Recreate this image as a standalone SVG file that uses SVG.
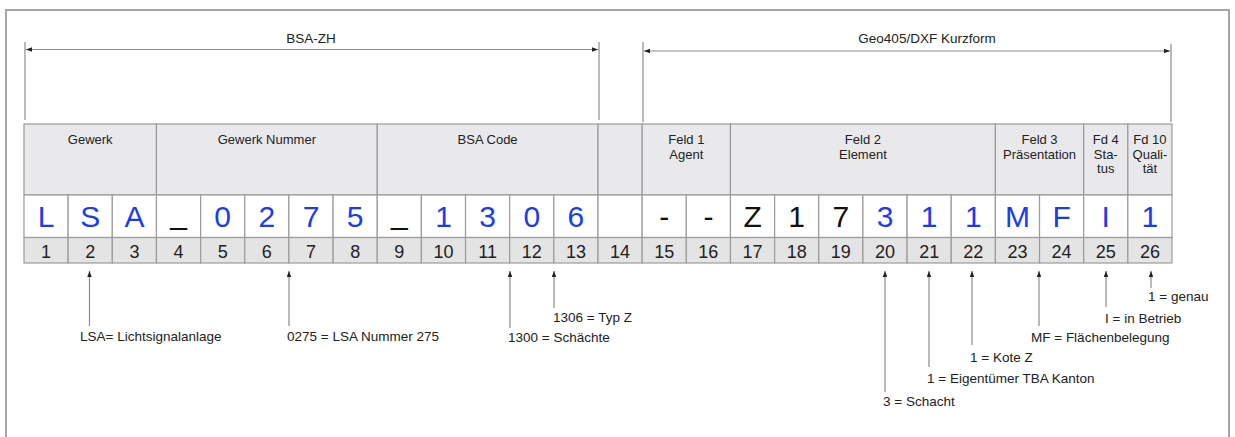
<svg xmlns="http://www.w3.org/2000/svg" width="1235" height="437" viewBox="0 0 1235 437">
<defs>
<style>
text{font-family:"Liberation Sans",Arial,Helvetica,sans-serif;fill:#222}
.hdr{fill:#e9e9ec;stroke:#9b9b9b;stroke-width:1.2}
.val{fill:#ffffff;stroke:#9b9b9b;stroke-width:1.2}
.num{fill:#e4e4e4;stroke:#9b9b9b;stroke-width:1.2}
.ht{font-size:13px;text-anchor:middle}
.v{font-size:30px;text-anchor:middle}
.b{fill:#1a3cf0}
.k{fill:#111}
.n{font-size:18px;text-anchor:middle;fill:#222}
.lbl{font-size:13.5px}
.dim{font-size:13.5px;text-anchor:middle}
.ln{stroke:#8a8a8a;stroke-width:1.2;fill:none}
.ar{stroke:#8a8a8a;stroke-width:1.2;fill:none;marker-start:url(#ah)}
.dl{stroke:#8a8a8a;stroke-width:1.2;fill:none;marker-start:url(#ah);marker-end:url(#ah)}
</style>
<marker id="ah" viewBox="0 0 8 6" refX="8" refY="3" markerWidth="6" markerHeight="4.5" markerUnits="userSpaceOnUse" orient="auto-start-reverse">
<path d="M0,0 L8,3 L0,6 Z" fill="#222"/>
</marker>
</defs>
<rect width="1235" height="437" fill="#ffffff"/>
<rect id="frame" x="6" y="10" width="1223" height="440" fill="none" stroke="#a6a6a6" stroke-width="2"/>

<g id="dim-bsa-zh">
<text class="dim" x="311" y="43">BSA-ZH</text>
</g>
<g id="dim-geo405">
<text class="dim" x="927" y="43">Geo405/DXF Kurzform</text>
</g>

<g id="header">
<g id="h-gewerk"><rect class="hdr" x="24" y="124" width="132.46" height="71"/><text class="ht" x="90.23" y="144">Gewerk</text></g>
<g id="h-gewerk-nummer"><rect class="hdr" x="156.46" y="124" width="220.77" height="71"/><text class="ht" x="266.85" y="144">Gewerk Nummer</text></g>
<g id="h-bsa-code"><rect class="hdr" x="377.23" y="124" width="220.77" height="71"/><text class="ht" x="487.62" y="144">BSA Code</text></g>
<g id="h-blank"><rect class="hdr" x="598" y="124" width="44.16" height="71"/></g>
<g id="h-feld1"><rect class="hdr" x="642.16" y="124" width="88.3" height="71"/><text class="ht" x="686.31" y="144">Feld 1</text><text class="ht" x="686.31" y="158.5">Agent</text></g>
<g id="h-feld2"><rect class="hdr" x="730.46" y="124" width="264.93" height="71"/><text class="ht" x="862.93" y="144">Feld 2</text><text class="ht" x="862.93" y="158.5">Element</text></g>
<g id="h-feld3"><rect class="hdr" x="995.39" y="124" width="88.31" height="71"/><text class="ht" x="1039.54" y="144">Feld 3</text><text class="ht" x="1039.54" y="158.5">Präsentation</text></g>
<g id="h-fd4"><rect class="hdr" x="1083.7" y="124" width="44.15" height="71"/><text class="ht" x="1105.78" y="144">Fd 4</text><text class="ht" x="1105.78" y="158.5">Sta-</text><text class="ht" x="1105.78" y="173">tus</text></g>
<g id="h-fd10"><rect class="hdr" x="1127.85" y="124" width="44.15" height="71"/><text class="ht" x="1149.93" y="144">Fd 10</text><text class="ht" x="1149.93" y="158.5">Quali-</text><text class="ht" x="1149.93" y="173">tät</text></g>
</g>

<g id="positions">
<g id="pos-1"><rect class="val" x="24" y="195" width="44.15" height="42.5"/><rect class="num" x="24" y="237.5" width="44.15" height="25.5"/><text class="v b" x="46.08" y="227">L</text><text class="n" x="46.08" y="257.5">1</text></g>
<g id="pos-2"><rect class="val" x="68.15" y="195" width="44.15" height="42.5"/><rect class="num" x="68.15" y="237.5" width="44.15" height="25.5"/><text class="v b" x="90.23" y="227">S</text><text class="n" x="90.23" y="257.5">2</text></g>
<g id="pos-3"><rect class="val" x="112.31" y="195" width="44.15" height="42.5"/><rect class="num" x="112.31" y="237.5" width="44.15" height="25.5"/><text class="v b" x="134.39" y="227">A</text><text class="n" x="134.39" y="257.5">3</text></g>
<g id="pos-4"><rect class="val" x="156.46" y="195" width="44.15" height="42.5"/><rect class="num" x="156.46" y="237.5" width="44.15" height="25.5"/><text class="v k" x="178.54" y="224">_</text><text class="n" x="178.54" y="257.5">4</text></g>
<g id="pos-5"><rect class="val" x="200.62" y="195" width="44.15" height="42.5"/><rect class="num" x="200.62" y="237.5" width="44.15" height="25.5"/><text class="v b" x="222.7" y="227">0</text><text class="n" x="222.7" y="257.5">5</text></g>
<g id="pos-6"><rect class="val" x="244.77" y="195" width="44.15" height="42.5"/><rect class="num" x="244.77" y="237.5" width="44.15" height="25.5"/><text class="v b" x="266.85" y="227">2</text><text class="n" x="266.85" y="257.5">6</text></g>
<g id="pos-7"><rect class="val" x="288.92" y="195" width="44.15" height="42.5"/><rect class="num" x="288.92" y="237.5" width="44.15" height="25.5"/><text class="v b" x="311" y="227">7</text><text class="n" x="311" y="257.5">7</text></g>
<g id="pos-8"><rect class="val" x="333.08" y="195" width="44.15" height="42.5"/><rect class="num" x="333.08" y="237.5" width="44.15" height="25.5"/><text class="v b" x="355.16" y="227">5</text><text class="n" x="355.16" y="257.5">8</text></g>
<g id="pos-9"><rect class="val" x="377.23" y="195" width="44.15" height="42.5"/><rect class="num" x="377.23" y="237.5" width="44.15" height="25.5"/><text class="v k" x="399.31" y="224">_</text><text class="n" x="399.31" y="257.5">9</text></g>
<g id="pos-10"><rect class="val" x="421.39" y="195" width="44.15" height="42.5"/><rect class="num" x="421.39" y="237.5" width="44.15" height="25.5"/><text class="v b" x="443.47" y="227">1</text><text class="n" x="443.47" y="257.5">10</text></g>
<g id="pos-11"><rect class="val" x="465.54" y="195" width="44.15" height="42.5"/><rect class="num" x="465.54" y="237.5" width="44.15" height="25.5"/><text class="v b" x="487.62" y="227">3</text><text class="n" x="487.62" y="257.5">11</text></g>
<g id="pos-12"><rect class="val" x="509.69" y="195" width="44.15" height="42.5"/><rect class="num" x="509.69" y="237.5" width="44.15" height="25.5"/><text class="v b" x="531.77" y="227">0</text><text class="n" x="531.77" y="257.5">12</text></g>
<g id="pos-13"><rect class="val" x="553.85" y="195" width="44.15" height="42.5"/><rect class="num" x="553.85" y="237.5" width="44.15" height="25.5"/><text class="v b" x="575.93" y="227">6</text><text class="n" x="575.93" y="257.5">13</text></g>
<g id="pos-14"><rect class="val" x="598" y="195" width="44.16" height="42.5"/><rect class="num" x="598" y="237.5" width="44.16" height="25.5"/><text class="n" x="620.08" y="257.5">14</text></g>
<g id="pos-15"><rect class="val" x="642.16" y="195" width="44.15" height="42.5"/><rect class="num" x="642.16" y="237.5" width="44.15" height="25.5"/><text class="v k" x="664.24" y="227">-</text><text class="n" x="664.24" y="257.5">15</text></g>
<g id="pos-16"><rect class="val" x="686.31" y="195" width="44.15" height="42.5"/><rect class="num" x="686.31" y="237.5" width="44.15" height="25.5"/><text class="v k" x="708.39" y="227">-</text><text class="n" x="708.39" y="257.5">16</text></g>
<g id="pos-17"><rect class="val" x="730.46" y="195" width="44.15" height="42.5"/><rect class="num" x="730.46" y="237.5" width="44.15" height="25.5"/><text class="v k" x="752.54" y="227">Z</text><text class="n" x="752.54" y="257.5">17</text></g>
<g id="pos-18"><rect class="val" x="774.62" y="195" width="44.15" height="42.5"/><rect class="num" x="774.62" y="237.5" width="44.15" height="25.5"/><text class="v k" x="796.7" y="227">1</text><text class="n" x="796.7" y="257.5">18</text></g>
<g id="pos-19"><rect class="val" x="818.77" y="195" width="44.15" height="42.5"/><rect class="num" x="818.77" y="237.5" width="44.15" height="25.5"/><text class="v k" x="840.85" y="227">7</text><text class="n" x="840.85" y="257.5">19</text></g>
<g id="pos-20"><rect class="val" x="862.93" y="195" width="44.15" height="42.5"/><rect class="num" x="862.93" y="237.5" width="44.15" height="25.5"/><text class="v b" x="885.01" y="227">3</text><text class="n" x="885.01" y="257.5">20</text></g>
<g id="pos-21"><rect class="val" x="907.08" y="195" width="44.15" height="42.5"/><rect class="num" x="907.08" y="237.5" width="44.15" height="25.5"/><text class="v b" x="929.16" y="227">1</text><text class="n" x="929.16" y="257.5">21</text></g>
<g id="pos-22"><rect class="val" x="951.23" y="195" width="44.16" height="42.5"/><rect class="num" x="951.23" y="237.5" width="44.16" height="25.5"/><text class="v b" x="973.31" y="227">1</text><text class="n" x="973.31" y="257.5">22</text></g>
<g id="pos-23"><rect class="val" x="995.39" y="195" width="44.15" height="42.5"/><rect class="num" x="995.39" y="237.5" width="44.15" height="25.5"/><text class="v b" x="1017.47" y="227">M</text><text class="n" x="1017.47" y="257.5">23</text></g>
<g id="pos-24"><rect class="val" x="1039.54" y="195" width="44.16" height="42.5"/><rect class="num" x="1039.54" y="237.5" width="44.16" height="25.5"/><text class="v b" x="1061.62" y="227">F</text><text class="n" x="1061.62" y="257.5">24</text></g>
<g id="pos-25"><rect class="val" x="1083.7" y="195" width="44.15" height="42.5"/><rect class="num" x="1083.7" y="237.5" width="44.15" height="25.5"/><text class="v b" x="1105.78" y="227">I</text><text class="n" x="1105.78" y="257.5">25</text></g>
<g id="pos-26"><rect class="val" x="1127.85" y="195" width="44.15" height="42.5"/><rect class="num" x="1127.85" y="237.5" width="44.15" height="25.5"/><text class="v b" x="1149.93" y="227">1</text><text class="n" x="1149.93" y="257.5">26</text></g>
</g>

<g id="labels">
<g id="lbl-lsa"><text class="lbl" x="80" y="341">LSA= Lichtsignalanlage</text></g>
<g id="lbl-0275"><text class="lbl" x="287" y="341">0275 = LSA Nummer 275</text></g>
<g id="lbl-1300"><text class="lbl" x="508" y="342">1300 = Schächte</text></g>
<g id="lbl-1306"><text class="lbl" x="553" y="322">1306 = Typ Z</text></g>
<g id="lbl-schacht"><text class="lbl" x="883" y="405.5">3 = Schacht</text></g>
<g id="lbl-eigentuemer"><text class="lbl" x="927" y="383">1 = Eigentümer TBA Kanton</text></g>
<g id="lbl-kote"><text class="lbl" x="970" y="361.5">1 = Kote Z</text></g>
<g id="lbl-mf"><text class="lbl" x="1031" y="342">MF = Flächenbelegung</text></g>
<g id="lbl-status"><text class="lbl" x="1105" y="323">I = in Betrieb</text></g>
<g id="lbl-genau"><text class="lbl" x="1148" y="301">1 = genau</text></g>
</g>

<g id="connectors">
<line class="ln" x1="25" y1="42" x2="25" y2="120"/>
<line class="ln" x1="599" y1="42" x2="599" y2="120"/>
<line class="dl" x1="26" y1="49.5" x2="598" y2="49.5"/>
<line class="ln" x1="643" y1="42" x2="643" y2="122"/>
<line class="ln" x1="1171" y1="44" x2="1171" y2="122"/>
<line class="dl" x1="644" y1="51" x2="1170" y2="51"/>
<line class="ar" x1="89.5" y1="271" x2="89.5" y2="326"/>
<line class="ar" x1="289" y1="271" x2="289" y2="326"/>
<line class="ar" x1="510" y1="271" x2="510" y2="328"/>
<line class="ar" x1="554" y1="271" x2="554" y2="308"/>
<line class="ar" x1="885" y1="271" x2="885" y2="392"/>
<line class="ar" x1="929" y1="271" x2="929" y2="367"/>
<line class="ar" x1="972" y1="271" x2="972" y2="345"/>
<line class="ar" x1="1039" y1="271" x2="1039" y2="326"/>
<line class="ar" x1="1106" y1="271" x2="1106" y2="307"/>
<line class="ar" x1="1151" y1="271" x2="1151" y2="288"/>
</g>
</svg>
